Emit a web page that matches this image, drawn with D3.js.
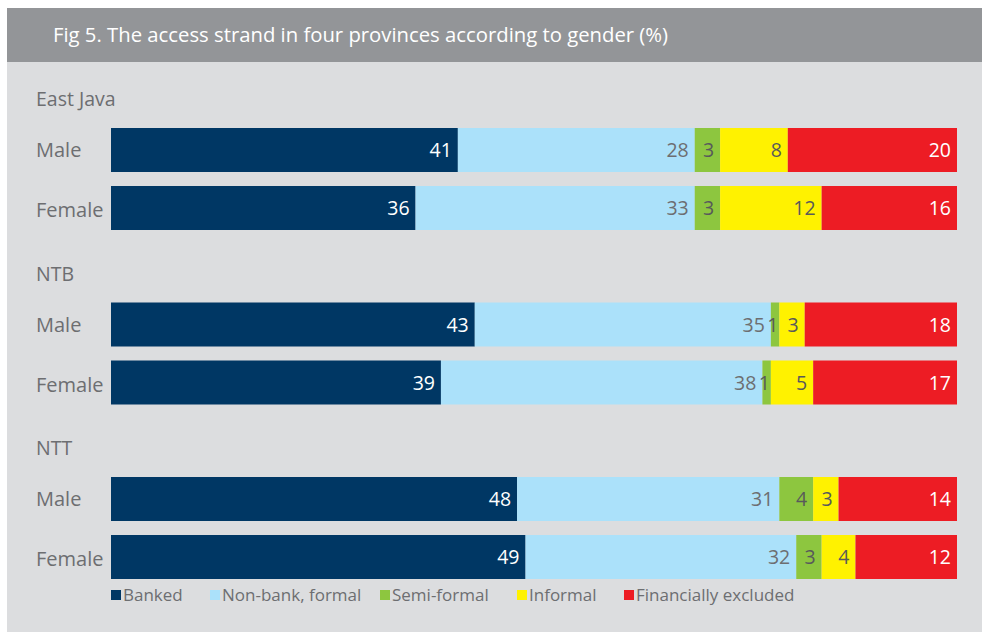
<!DOCTYPE html>
<html>
<head>
<meta charset="utf-8">
<title>Fig 5</title>
<script src="https://d3js.org/d3.v7.min.js"></script>
<style>
  body { margin: 0; background: #fff; }
  text { font-family: "Open Sans", sans-serif; }
</style>
</head>
<body>
<div id="chart"></div>
<script>
// provinces and rows (each province has a male and a female row)
var provinces = ["East Java", "NTB", "NTT"];
var genders = ["Male", "Female"];
var seriesNames = ["Banked", "Non-bank, formal", "Semi-formal", "Informal", "Financially excluded"];

// values in row order: EJ male, EJ female, NTB male, NTB female, NTT male, NTT female
var banked     = [41, 36, 43, 39, 48, 49];
var nonBank    = [28, 33, 35, 38, 31, 32];
var semiFormal = [3, 3, 1, 1, 4, 3];
var informal   = [8, 12, 3, 5, 3, 4];
var excluded   = [20, 16, 18, 17, 14, 12];

var colors = ["#003764", "#abe1fa", "#8dc63f", "#fff200", "#ed1c24"];
var labelColors = ["#fff", "#6d6e71", "#58595b", "#58595b", "#fff"];

var W = 985, H = 638;
var svg = d3.select("#chart").append("svg")
    .attr("width", W).attr("height", H);

// panel + title bar
svg.append("rect").attr("x", 7).attr("y", 8).attr("width", 975).attr("height", 624)
    .attr("fill", "#dcdddf");
svg.append("rect").attr("x", 7).attr("y", 8).attr("width", 975).attr("height", 54)
    .attr("fill", "#939598");
svg.append("text").attr("x", 53).attr("y", 42)
    .attr("fill", "#fff").style("font-size", "20.3px")
    .text("Fig 5. The access strand in four provinces according to gender (%)");

var x = d3.scaleLinear().domain([0, 100]).range([111, 957]);

var yGroup = d3.scaleBand().domain(provinces).range([84, 84 + 174.5 * 3]).padding(0);
var yRow = d3.scaleBand().domain(genders).range([44, 146]).paddingInner(14 / 58).paddingOuter(0);

var series = [banked, nonBank, semiFormal, informal, excluded];

// build rows
var rows = [];
provinces.forEach(function(p, pi) {
  genders.forEach(function(g, gi) {
    var idx = pi * 2 + gi, acc = 0;
    var segs = series.map(function(s, si) {
      var seg = { start: acc, end: acc + s[idx], value: s[idx], si: si };
      acc += s[idx];
      return seg;
    });
    rows.push({ province: p, gender: g, segs: segs });
  });
});

// province headers
svg.append("g").selectAll("text")
    .data(provinces)
    .enter().append("text")
    .attr("x", 36)
    .attr("y", function(d) { return yGroup(d) + 22; })
    .attr("fill", "#6d6e71")
    .style("font-size", "19.5px")
    .text(function(d) { return d; });

var rowG = svg.append("g").selectAll("g")
    .data(rows)
    .enter().append("g")
    .attr("transform", function(d) { return "translate(0," + (yGroup(d.province) + yRow(d.gender)) + ")"; });

rowG.append("text")
    .attr("x", 36)
    .attr("y", function(d) { return yRow.bandwidth() / 2 + (d.gender === "Female" ? 2 : 0); })
    .attr("dy", "0.36em")
    .attr("fill", "#6d6e71")
    .style("font-size", "20px")
    .text(function(d) { return d.gender; });

rowG.selectAll("rect")
    .data(function(d) { return d.segs; })
    .enter().append("rect")
    .attr("x", function(d) { return x(d.start); })
    .attr("width", function(d) { return x(d.end) - x(d.start); })
    .attr("height", yRow.bandwidth())
    .attr("fill", function(d) { return colors[d.si]; });

rowG.selectAll("text.val")
    .data(function(d) { return d.segs; })
    .enter().append("text")
    .attr("class", "val")
    .attr("x", function(d) { return x(d.end) - (d.value < 2 ? 1 : 6); })
    .attr("y", yRow.bandwidth() / 2)
    .attr("dy", "0.36em")
    .attr("text-anchor", "end")
    .attr("fill", function(d) { return labelColors[d.si]; })
    .style("font-size", "19.5px")
    .text(function(d) { return d.value; });

// legend
var legendX = [111, 210, 380, 517, 624];
var legend = svg.append("g").selectAll("g")
    .data(seriesNames)
    .enter().append("g")
    .attr("transform", function(d, i) { return "translate(" + legendX[i] + ",590)"; });

legend.append("rect")
    .attr("width", 10).attr("height", 10)
    .attr("fill", function(d, i) { return colors[i]; });

legend.append("text")
    .attr("x", 12).attr("y", 5).attr("dy", "0.36em")
    .attr("fill", "#6d6e71")
    .style("font-size", "17px")
    .text(function(d) { return d; });
</script>
</body>
</html>
